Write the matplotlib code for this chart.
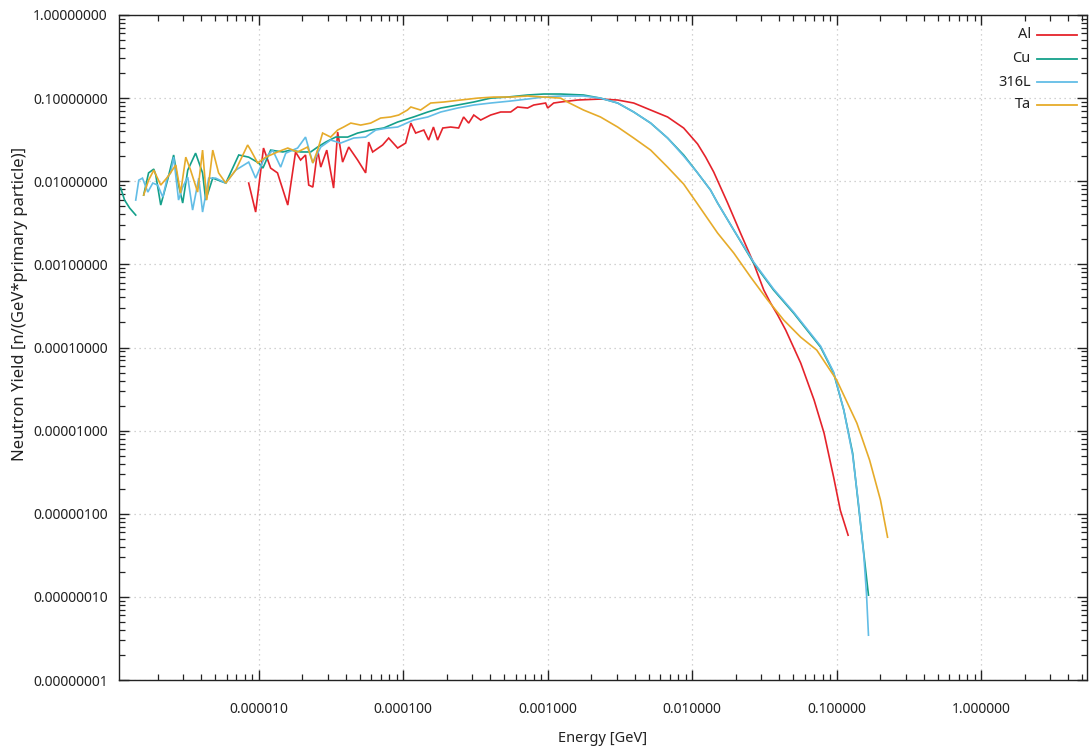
import numpy as np
import matplotlib
matplotlib.use("Agg")
import matplotlib.pyplot as plt
from matplotlib.ticker import LogLocator, FixedLocator, FuncFormatter, NullFormatter
from matplotlib.lines import Line2D

plt.rcParams['font.family'] = ['Noto Sans', 'DejaVu Sans']

# ---------------- data ----------------
al_e = [8.53e-6, 9.53e-6, 1.08e-5, 1.21e-5, 1.35e-5, 1.59e-5, 1.80e-5, 1.95e-5, 2.11e-5, 2.22e-5,
        2.37e-5, 2.56e-5, 2.69e-5, 2.96e-5, 3.30e-5, 3.52e-5, 3.81e-5, 4.20e-5, 4.84e-5, 5.50e-5,
        5.77e-5, 6.15e-5, 7.21e-5, 7.94e-5, 9.16e-5, 1.04e-4, 1.13e-4, 1.22e-4, 1.39e-4, 1.50e-4,
        1.62e-4, 1.73e-4, 1.88e-4, 2.13e-4, 2.42e-4, 2.62e-4, 2.84e-4, 3.08e-4, 3.44e-4, 4.03e-4,
        4.73e-4, 5.55e-4, 6.19e-4, 7.26e-4, 8.00e-4, 9.68e-4, 1.00e-3, 1.10e-3, 1.23e-3, 1.61e-3,
        2.32e-3, 3.05e-3, 3.94e-3, 5.16e-3, 6.76e-3, 8.73e-3, 1.09e-2, 1.24e-2, 1.41e-2, 1.76e-2,
        2.16e-2, 2.66e-2, 3.13e-2, 3.49e-2, 3.91e-2, 4.44e-2, 4.95e-2, 5.64e-2, 6.98e-2, 8.18e-2,
        9.53e-2, 0.106, 0.120]
al_y = [0.00951, 0.00426, 0.0251, 0.0144, 0.0126, 0.00517, 0.0225, 0.0180, 0.0207, 0.00900,
        0.00851, 0.0237, 0.0148, 0.0237, 0.00828, 0.0391, 0.0170, 0.0258, 0.0180, 0.0126,
        0.0296, 0.0225, 0.0273, 0.0331, 0.0251, 0.0288, 0.0501, 0.0380, 0.0413, 0.0313,
        0.0449, 0.0313, 0.0437, 0.0449, 0.0437, 0.0593, 0.0501, 0.0626, 0.0545, 0.0626,
        0.0681, 0.0681, 0.0782, 0.0760, 0.0826, 0.0873, 0.0760, 0.0873, 0.0898, 0.0949,
        0.0975, 0.0949, 0.0873, 0.0719, 0.0593, 0.0437, 0.0281, 0.0195, 0.0129, 0.00547,
        0.00238, 0.00104, 0.000491, 0.000342, 0.000245, 0.000162, 0.000107, 6.49e-5, 2.33e-5, 9.33e-6,
        2.75e-6, 1.10e-6, 5.52e-7]

cu_e = [1.11e-6, 1.18e-6, 1.28e-6, 1.41e-6, 1.50e-6, 1.60e-6, 1.73e-6, 1.88e-6, 1.94e-6, 2.10e-6,
        2.34e-6, 2.58e-6, 2.79e-6, 2.98e-6, 3.23e-6, 3.66e-6, 4.09e-6, 4.30e-6, 4.81e-6, 5.92e-6,
        7.28e-6, 8.53e-6, 1.00e-5, 1.07e-5, 1.21e-5, 1.47e-5, 1.66e-5, 1.95e-5, 2.29e-5, 2.56e-5,
        2.91e-5, 3.41e-5, 4.13e-5, 4.84e-5, 5.96e-5, 7.33e-5, 9.16e-5, 1.18e-4, 1.48e-4, 1.82e-4,
        2.38e-4, 3.08e-4, 4.03e-4, 5.28e-4, 7.26e-4, 9.38e-4, 1.23e-3, 1.77e-3, 2.32e-3, 3.05e-3,
        3.94e-3, 5.16e-3, 6.76e-3, 8.73e-3, 1.09e-2, 1.34e-2, 1.50e-2, 1.94e-2, 2.66e-2, 3.66e-2,
        5.04e-2, 5.64e-2, 7.74e-2, 9.53e-2, 0.112, 0.129, 0.142, 0.154, 0.166]
cu_y = [0.00828, 0.00594, 0.00476, 0.00392, np.nan, 0.00682, 0.0126, 0.0140, 0.0119, 0.00517,
        0.0103, 0.0207, 0.00900, 0.00547, 0.0136, 0.0218, 0.0126, 0.00594, 0.0109, 0.00951,
        0.0207, 0.0195, 0.0166, 0.0144, 0.0237, 0.0225, 0.0237, 0.0225, 0.0225, 0.0258,
        0.0296, 0.0340, 0.0340, 0.0380, 0.0413, 0.0437, 0.0516, 0.0593, 0.0681, 0.0760,
        0.0826, 0.0898, 0.100, 0.103, 0.109, 0.112, 0.112, 0.109, 0.100, 0.0873,
        0.0681, 0.0501, 0.0331, 0.0207, 0.0126, 0.00783, 0.00547, 0.00259, 0.00104, 0.000491,
        0.000259, 0.000202, 0.000101, 4.92e-5, 1.77e-5, 5.36e-6, 1.20e-6, 3.36e-7, 1.05e-7]

s316_e = [1.41e-6, 1.48e-6, 1.57e-6, 1.71e-6, 1.85e-6, 2.00e-6, 2.17e-6, 2.34e-6, 2.46e-6, 2.58e-6,
          2.79e-6, 2.98e-6, 3.23e-6, 3.49e-6, 3.85e-6, 4.09e-6, 4.51e-6, 5.04e-6, 5.92e-6, 6.93e-6,
          8.53e-6, 9.53e-6, 1.08e-5, 1.25e-5, 1.42e-5, 1.54e-5, 1.86e-5, 2.11e-5, 2.37e-5, 2.69e-5,
          3.15e-5, 3.69e-5, 4.54e-5, 5.50e-5, 6.46e-5, 7.82e-5, 9.16e-5, 1.18e-4, 1.48e-4, 1.82e-4,
          2.38e-4, 3.08e-4, 4.03e-4, 5.55e-4, 7.26e-4, 9.38e-4, 1.23e-3, 1.77e-3, 2.32e-3, 3.05e-3,
          3.94e-3, 5.16e-3, 6.76e-3, 8.73e-3, 1.09e-2, 1.34e-2, 1.50e-2, 1.94e-2, 2.66e-2, 3.66e-2,
          5.04e-2, 5.64e-2, 7.74e-2, 9.53e-2, 0.112, 0.129, 0.142, 0.154, 0.161, 0.166]
s316_y = [0.00594, 0.0103, 0.0109, 0.00741, 0.00951, 0.00900, 0.00645, 0.0112, 0.0126, 0.0195,
          0.00594, 0.00851, 0.0112, 0.00450, 0.0109, 0.00426, 0.0109, 0.0109, 0.00951, 0.0136,
          0.0170, 0.0109, 0.0180, 0.0237, 0.0148, 0.0218, 0.0251, 0.0340, 0.0166, 0.0258,
          0.0313, 0.0288, 0.0331, 0.0340, 0.0413, 0.0437, 0.0449, 0.0545, 0.0593, 0.0681,
          0.0760, 0.0826, 0.0873, 0.0923, 0.0975, 0.103, 0.106, 0.106, 0.100, 0.0873,
          0.0681, 0.0501, 0.0331, 0.0201, 0.0126, 0.00783, 0.00547, 0.00259, 0.00107, 0.000505,
          0.000266, 0.000208, 0.000104, 5.06e-5, 1.77e-5, 5.07e-6, 1.27e-6, 3.18e-7, 1.05e-7, 3.46e-8]

ta_e = [1.60e-6, 1.73e-6, 1.88e-6, 2.10e-6, 2.34e-6, 2.67e-6, 2.88e-6, 3.13e-6, 3.38e-6, 3.78e-6,
        4.09e-6, 4.37e-6, 4.81e-6, 5.28e-6, 5.92e-6, 6.93e-6, 8.39e-6, 8.81e-6, 9.84e-6, 1.12e-5,
        1.35e-5, 1.59e-5, 1.86e-5, 2.18e-5, 2.37e-5, 2.56e-5, 2.77e-5, 3.15e-5, 3.52e-5, 3.87e-5,
        4.34e-5, 5.08e-5, 5.96e-5, 6.98e-5, 8.18e-5, 9.31e-5, 1.07e-4, 1.13e-4, 1.32e-4, 1.55e-4,
        1.91e-4, 2.50e-4, 3.27e-4, 4.23e-4, 5.55e-4, 7.26e-4, 9.38e-4, 1.23e-3, 1.37e-3, 1.77e-3,
        2.32e-3, 3.05e-3, 3.94e-3, 5.16e-3, 6.76e-3, 8.73e-3, 1.09e-2, 1.50e-2, 1.94e-2, 2.54e-2,
        3.33e-2, 4.30e-2, 5.64e-2, 7.28e-2, 0.100, 0.138, 0.169, 0.201, 0.225]
ta_y = [0.00682, 0.0103, 0.0136, 0.00900, 0.0112, 0.0157, 0.00721, 0.0195, 0.0136, 0.00741,
        0.0237, 0.00594, 0.0237, 0.0126, 0.00951, 0.0136, 0.0273, 0.0237, 0.0166, 0.0195,
        0.0225, 0.0251, 0.0225, 0.0258, 0.0166, 0.0237, 0.0380, 0.0340, 0.0413, 0.0449,
        0.0501, 0.0474, 0.0501, 0.0576, 0.0593, 0.0626, 0.0719, 0.0782, 0.0719, 0.0873,
        0.0898, 0.0949, 0.100, 0.103, 0.103, 0.106, 0.103, 0.100, 0.0898, 0.0719,
        0.0593, 0.0449, 0.0331, 0.0237, 0.0148, 0.00925, 0.00532, 0.00238, 0.00137, 0.000703,
        0.000372, 0.000214, 0.000133, 9.31e-5, 4.06e-5, 1.23e-5, 4.42e-6, 1.46e-6, 5.22e-7]

series_names = ["Al", "Cu", "316L", "Ta"]
series_colors = ["#e5232b", "#14a08a", "#62bde6", "#e6ab2a"]

x_ticks = [1e-5, 1e-4, 1e-3, 1e-2, 1e-1, 1.0]
y_ticks = [1e-8, 1e-7, 1e-6, 1e-5, 1e-4, 1e-3, 1e-2, 1e-1, 1.0]

# ---------------- figure ----------------
fig = plt.figure(figsize=(10.91, 7.49), dpi=100)
ax = fig.add_axes([119 / 1091, 1 - 680 / 749, 968 / 1091, 665 / 749])

data = [(al_e, al_y), (cu_e, cu_y), (s316_e, s316_y), (ta_e, ta_y)]
for (e, y), c in zip(data, series_colors):
    ax.plot(e, y, color=c, lw=1.2, solid_joinstyle='miter')

ax.set_xscale('log')
ax.set_yscale('log')
ax.set_xlim(1.08e-6, 5.4)
ax.set_ylim(1e-8, 1.0)

ax.xaxis.set_major_locator(FixedLocator(x_ticks))
ax.yaxis.set_major_locator(FixedLocator(y_ticks))
ax.xaxis.set_minor_locator(LogLocator(base=10, subs=np.arange(2, 10), numticks=100))
ax.yaxis.set_minor_locator(LogLocator(base=10, subs=np.arange(2, 10), numticks=100))
ax.xaxis.set_major_formatter(FuncFormatter(lambda v, p: f"{v:.6f}"))
ax.yaxis.set_major_formatter(FuncFormatter(lambda v, p: f"{v:.8f}"))
ax.xaxis.set_minor_formatter(NullFormatter())
ax.yaxis.set_minor_formatter(NullFormatter())

ax.tick_params(which='both', direction='in', top=True, right=True, colors='#222222')
ax.tick_params(which='major', length=7, width=1.0, labelsize=10)
ax.tick_params(which='minor', length=4, width=0.9)
ax.tick_params(axis='x', which='major', pad=16)
ax.tick_params(axis='y', which='major', pad=8)

for s in ax.spines.values():
    s.set_color('#222222')
    s.set_linewidth(1.0)

ax.grid(True, which='major', linestyle=(0, (1, 3)), color='#c4c4c4', linewidth=0.9)
ax.set_axisbelow(True)

ax.set_xlabel("Energy [GeV]", fontsize=10.5, color='#222222', labelpad=10)
ax.set_ylabel("Neutron Yield [n/(GeV*primary particle)]", fontsize=12, color='#222222')
ax.yaxis.set_label_coords(-0.094, 0.565)

# legend: right-aligned labels with line sample on the right (gnuplot style)
leg_y = [0.970, 0.934, 0.899, 0.865]
for name, c, yy in zip(series_names, series_colors, leg_y):
    ax.text(0.942, yy, name, transform=ax.transAxes, ha='right', va='center',
            fontsize=10.5, color='#222222')
    ax.add_line(Line2D([0.948, 0.990], [yy, yy], transform=ax.transAxes,
                       color=c, lw=1.3))

fig.savefig("out.png", dpi=100)
